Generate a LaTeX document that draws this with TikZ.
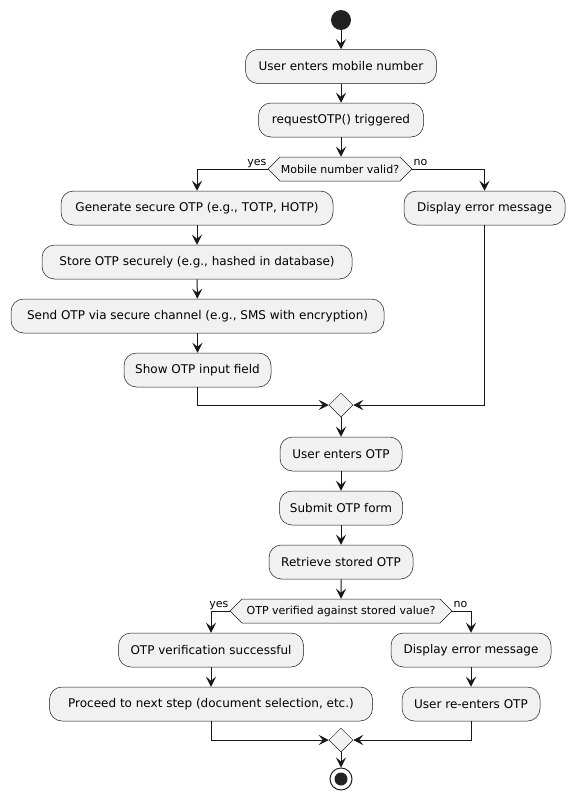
\documentclass[tikz,border=0pt]{standalone}
\usepackage{fontspec}
\setmainfont{DejaVu Sans}
\usetikzlibrary{arrows.meta,shapes.symbols,shapes.geometric}
\definecolor{boxfill}{HTML}{F1F1F1}
\definecolor{ink}{HTML}{181818}
\definecolor{dotc}{HTML}{222222}
\begin{document}
\begin{tikzpicture}[x=1pt,y=-1pt,
 act/.style={draw=ink, line width=0.5pt, fill=boxfill, rounded corners=12.5pt, minimum height=34pt, inner sep=0pt, font=\fontsize{12}{14}\selectfont},
 dec/.style={draw=ink, line width=0.5pt, fill=boxfill, signal, signal to=east and west, signal pointer angle=90, minimum height=24pt, inner sep=0pt, font=\fontsize{11}{13}\selectfont},
 merge/.style={draw=ink, line width=0.5pt, fill=boxfill, diamond, minimum size=24pt, inner sep=0pt},
 flow/.style={draw=ink, line width=1pt, -{Stealth[length=10pt,width=10pt,inset=4pt]}},
 lbl/.style={font=\fontsize{11}{13}\selectfont, inner sep=0pt, text=black}
]
\fill[white] (0,0) rectangle (574,803);
\useasboundingbox (0,0) rectangle (574,803);

\node[circle, fill=dotc, minimum size=20pt, inner sep=0pt] (start) at (341,20) {};
\node[act, minimum width=191pt] (a1) at (341,66.5) {User enters mobile number};
\node[act, minimum width=165pt] (a2) at (341,120) {requestOTP() triggered};
\node[dec, minimum width=144pt] (d1) at (340,169) {Mobile number valid?};
\node[act, minimum width=272pt] (g1) at (197,208) {Generate secure OTP (e.g., TOTP, HOTP)};
\node[act, minimum width=310pt] (g2) at (197,262) {Store OTP securely (e.g., hashed in database)};
\node[act, minimum width=373pt] (g3) at (197.5,316) {Send OTP via secure channel (e.g., SMS with encryption)};
\node[act, minimum width=147pt] (g4) at (197.5,370) {Show OTP input field};
\node[act, minimum width=161pt] (e1) at (484.5,208) {Display error message};
\node[merge] (m1) at (341,405) {};
\node[act, minimum width=122pt] (b1) at (341,454) {User enters OTP};
\node[act, minimum width=123pt] (b2) at (341,508) {Submit OTP form};
\node[act, minimum width=144pt] (b3) at (341,562) {Retrieve stored OTP};
\node[dec, minimum width=222pt] (d2) at (341,611) {OTP verified against stored value?};
\node[act, minimum width=185pt] (s1) at (211,650) {OTP verification successful};
\node[act, minimum width=323pt] (s2) at (211,704) {Proceed to next step (document selection, etc.)};
\node[act, minimum width=160pt] (r1) at (471,650) {Display error message};
\node[act, minimum width=138pt] (r2) at (471,704) {User re-enters OTP};
\node[merge] (m2) at (341,740) {};
\node[circle, draw=dotc, line width=1pt, fill=white, minimum size=22pt, inner sep=0pt] (stop) at (341,779) {};
\node[circle, fill=dotc, minimum size=13pt, inner sep=0pt] (stopin) at (stop.center) {};

\node[lbl, anchor=base east] (y1) at ([xshift=-1pt,yshift=4pt]d1.west) {yes};
\node[lbl, anchor=base west] (n1) at ([xshift=1pt,yshift=4pt]d1.east) {no};
\node[lbl, anchor=base east] (y2) at ([xshift=-1pt,yshift=4pt]d2.west) {yes};
\node[lbl, anchor=base west] (n2) at ([xshift=1pt,yshift=4pt]d2.east) {no};

\draw[flow] (start) -- (a1);
\draw[flow] (a1) -- (a2);
\draw[flow] (a2.south) -- (a2.south |- d1.north);
\draw[flow] (d1.west) -| (g1.north);
\draw[flow] (d1.east) -| (e1.north);
\draw[flow] (g1) -- (g2);
\draw[flow] (g2) -- (g3);
\draw[flow] (g3.south) -- (g3.south |- g4.north);
\draw[flow] (g4.south) |- (m1.west);
\draw[flow] (e1.south) |- (m1.east);
\draw[flow] (m1) -- (b1);
\draw[flow] (b1) -- (b2);
\draw[flow] (b2) -- (b3);
\draw[flow] (b3) -- (d2);
\draw[flow] (d2.west) -| (s1.north);
\draw[flow] (d2.east) -| (r1.north);
\draw[flow] (s1) -- (s2);
\draw[flow] (r1) -- (r2);
\draw[flow] (s2.south) |- (m2.west);
\draw[flow] (r2.south) |- (m2.east);
\draw[flow] (m2) -- (stop);
\end{tikzpicture}
\end{document}
